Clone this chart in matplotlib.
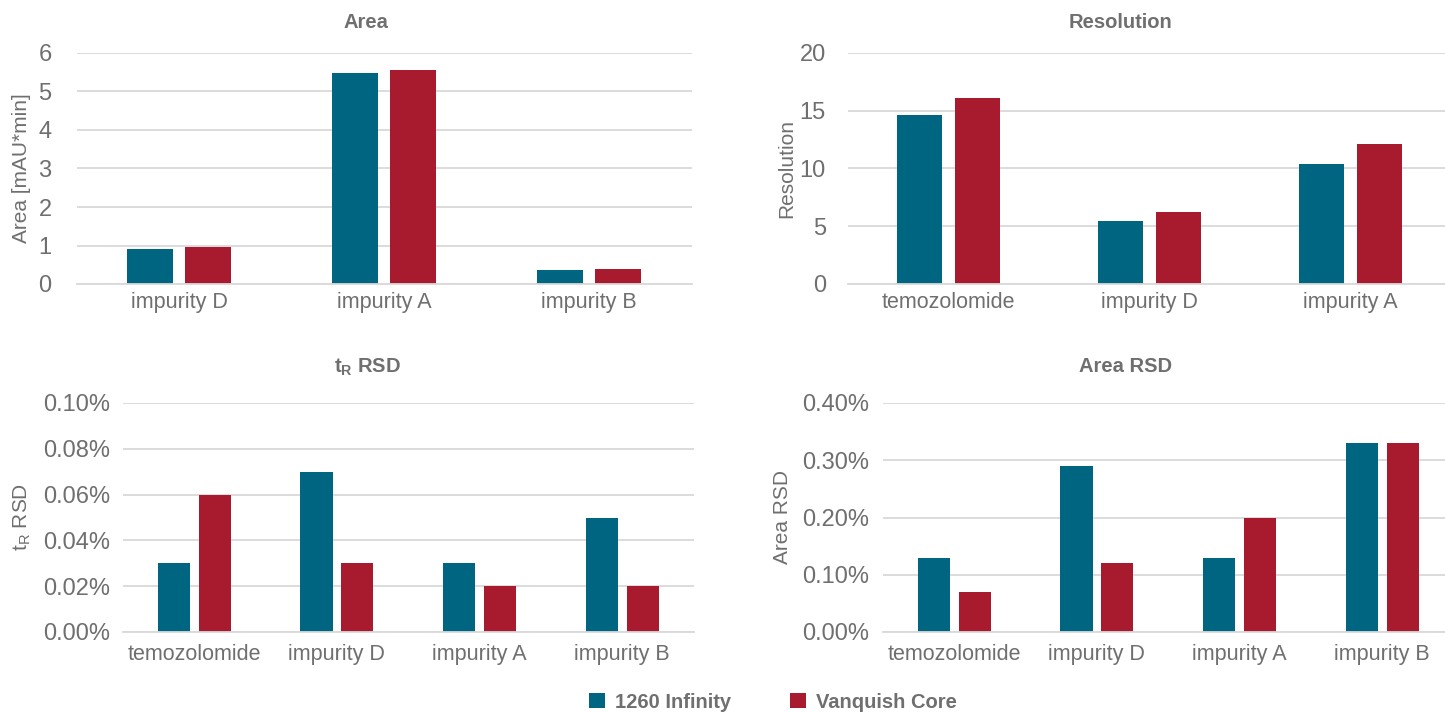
import matplotlib
matplotlib.use("Agg")
import matplotlib.pyplot as plt
import numpy as np
from matplotlib.ticker import PercentFormatter, MultipleLocator

plt.rcParams['font.family'] = ['Liberation Sans', 'DejaVu Sans']
plt.rcParams['mathtext.fontset'] = 'custom'
plt.rcParams['mathtext.rm'] = 'Liberation Sans'
plt.rcParams['mathtext.bf'] = 'Liberation Sans:bold'

# ---- data ----
series = ["1260 Infinity", "Vanquish Core"]

area_cats = ["impurity D", "impurity A", "impurity B"]
area_1260 = [0.91, 5.48, 0.36]
area_vq = [0.95, 5.55, 0.39]

res_cats = ["temozolomide", "impurity D", "impurity A"]
res_1260 = [14.6, 5.45, 10.4]
res_vq = [16.1, 6.2, 12.1]

rsd_cats = ["temozolomide", "impurity D", "impurity A", "impurity B"]
tr_rsd_1260 = [0.03, 0.07, 0.03, 0.05]
tr_rsd_vq = [0.06, 0.03, 0.02, 0.02]

area_rsd_1260 = [0.13, 0.29, 0.13, 0.33]
area_rsd_vq = [0.07, 0.12, 0.20, 0.33]

# ---- style ----
BLUE = "#006580"
RED = "#A81B2E"
TEXT = "#6f6f6f"
GRID = "#d9d9d9"

W, H = 1445, 713
fig = plt.figure(figsize=(W / 100, H / 100), dpi=100)


def add_ax(x0, x1, ytop, ybot):
    return fig.add_axes([x0 / W, 1 - ybot / H, (x1 - x0) / W, (ybot - ytop) / H])


def style(ax, cats, v1, v2, ymax, step, pct=False, ypad=10, xpad=6):
    x = np.arange(len(cats))
    bw = 0.225
    off = 0.143
    ax.bar(x - off, v1, bw, color=BLUE, zorder=3, label=series[0])
    ax.bar(x + off, v2, bw, color=RED, zorder=3, label=series[1])
    ax.set_xlim(-0.5, len(cats) - 0.5)
    ax.set_ylim(0, ymax)
    ax.yaxis.set_major_locator(MultipleLocator(step))
    if pct:
        ax.yaxis.set_major_formatter(PercentFormatter(xmax=100, decimals=2))
    ax.set_xticks(x)
    ax.set_xticklabels(cats)
    for s in ["top", "right", "left"]:
        ax.spines[s].set_visible(False)
    ax.spines["bottom"].set_color(GRID)
    ax.spines["bottom"].set_linewidth(1.3)
    ax.spines["bottom"].set_zorder(4)
    ax.grid(axis="y", color=GRID, linewidth=1.3, zorder=0)
    ax.set_axisbelow(True)
    ax.tick_params(axis="both", length=0, colors=TEXT)
    ax.tick_params(axis="y", labelsize=17, pad=ypad)
    ax.tick_params(axis="x", labelsize=15.5, pad=xpad)
    ax.patch.set_visible(False)


ax1 = add_ax(76.5, 691.5, 53, 284)
style(ax1, area_cats, area_1260, area_vq, 6, 1, ypad=18)
ax2 = add_ax(848, 1451, 53, 284)
style(ax2, res_cats, res_1260, res_vq, 20, 5, ypad=16)
ax3 = add_ax(123, 693.5, 403, 632)
style(ax3, rsd_cats, tr_rsd_1260, tr_rsd_vq, 0.10, 0.02, pct=True, ypad=9, xpad=8.5)
ax4 = add_ax(883, 1453.5, 403, 632)
style(ax4, rsd_cats, area_rsd_1260, area_rsd_vq, 0.40, 0.10, pct=True, ypad=10, xpad=8.5)

# titles
tkw = dict(color=TEXT, fontsize=14.5, fontweight="bold", ha="center", va="center")
fig.text(366 / W, 1 - 22 / H, "Area", **tkw)
fig.text(1121 / W, 1 - 22 / H, "Resolution", **tkw)
fig.text(367 / W, 1 - 367 / H, r"$\mathbf{t}_{\mathbf{R}}$ RSD", **tkw)
fig.text(1126 / W, 1 - 367 / H, "Area RSD", **tkw)

# y labels
lkw = dict(color=TEXT, fontsize=15, rotation=90, ha="center", va="center")
fig.text(22 / W, 1 - 168 / H, "Area [mAU*min]", **lkw)
fig.text(787 / W, 1 - 168 / H, "Resolution", **lkw)
fig.text(22 / W, 1 - 517 / H, r"$\mathrm{t}_{\mathrm{R}}$ RSD", **lkw)
fig.text(783 / W, 1 - 517 / H, "Area RSD", **lkw)

# legend
handles, labels = ax1.get_legend_handles_labels()
leg = fig.legend(handles, labels, loc="center", bbox_to_anchor=(773 / W, 1 - 702 / H),
                 ncol=2, frameon=False, handlelength=0.8, handleheight=0.8,
                 columnspacing=2.9, handletextpad=0.5,
                 prop={"size": 14.5, "weight": "bold"})
for t in leg.get_texts():
    t.set_color(TEXT)

fig.savefig("out.png", dpi=100)
